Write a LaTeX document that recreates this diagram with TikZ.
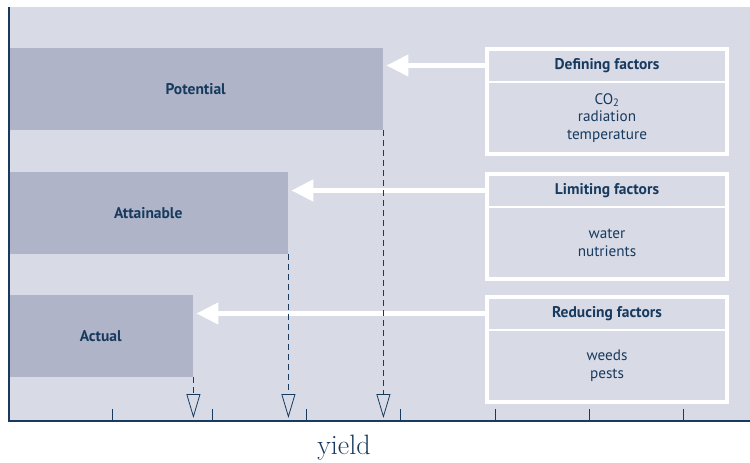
\documentclass[tikz,border=0pt]{standalone}
\usepackage{fontspec}
\setsansfont{PT Sans}
\usetikzlibrary{arrows.meta,positioning}
\definecolor{panel}{HTML}{D8DBE6}
\definecolor{barfill}{HTML}{AFB4C8}
\definecolor{navy}{HTML}{173A5E}
\tikzset{bar/.style={rectangle,fill=barfill,anchor=north west,minimum height=82pt,inner sep=0pt,text=navy,font=\sffamily\bfseries\fontsize{15.5}{18}\selectfont}}
\tikzset{head/.style={rectangle,draw=white,line width=2pt,outer sep=0pt,minimum width=240pt,minimum height=33pt,inner sep=0pt,text=navy,font=\sffamily\bfseries\fontsize{15.5}{18}\selectfont}}
\tikzset{body/.style={head,minimum height=72pt,align=center,font=\sffamily\fontsize{15.2}{17.8}\selectfont}}
\tikzset{frame/.style={draw=white,line width=3.5pt}}
\tikzset{flow/.style={draw=white,line width=4.5pt,-{Triangle[width=21pt,length=22pt]},shorten >=3pt}}
\tikzset{drop/.style={draw=navy,line width=0.8pt,dash pattern=on 6pt off 4pt,-{Triangle[open,fill=panel,width=14pt,length=24pt]}}}
\tikzset{tick/.style={draw=navy,line width=1pt}}

\begin{document}
\begin{tikzpicture}[x=1pt,y=-1pt]
    \useasboundingbox (0,0) rectangle (750,463);
    \fill[panel] (8,7) rectangle (750,421);

    % yield bars
    \node[bar,minimum width=375pt] (pot) at (8,48) {Potential};
    \node[bar,minimum width=280pt] (att) at (8,172) {Attainable};
    \node[bar,minimum width=185pt] (act) at (8,295) {Actual};

    % factor boxes
    \node[head,anchor=north west] (hdef) at (487,49) {Defining factors};
    \node[body,below=0pt of hdef] (bdef) {CO\textsubscript{2}\\radiation\\temperature};
    \node[head,anchor=north west] (hlim) at (487,174) {Limiting factors};
    \node[body,below=0pt of hlim] (blim) {water\\nutrients};
    \node[head,anchor=north west] (hred) at (487,297) {Reducing factors};
    \node[body,below=0pt of hred] (bred) {weeds\\pests};

    \draw[frame] (hdef.north west) rectangle (bdef.south east);
    \draw[frame] (hlim.north west) rectangle (blim.south east);
    \draw[frame] (hred.north west) rectangle (bred.south east);

    \path[flow] (hdef.west) -- (pot.east |- hdef.west);
    \path[flow] (hlim.west) -- (att.east |- hlim.west);
    \path[flow] (hred.west) -- (act.east |- hred.west);

    % axes
    \coordinate (ax) at (0,418);
    \draw[navy,line width=2pt] (9,7) -- (9,421) -- (750,421);
    \foreach \x in {112,212,306,400,495,589,683}
        \draw[tick] (\x,409) -- (\x,421);

    \draw[drop] (pot.south east) -- (pot.south east |- ax);
    \draw[drop] (att.south east) -- (att.south east |- ax);
    \draw[drop] (act.south east) -- (act.south east |- ax);

    \node[text=navy,font=\fontsize{28}{30}\selectfont] (yield) at (344,448) {yield};
\end{tikzpicture}
\end{document}
